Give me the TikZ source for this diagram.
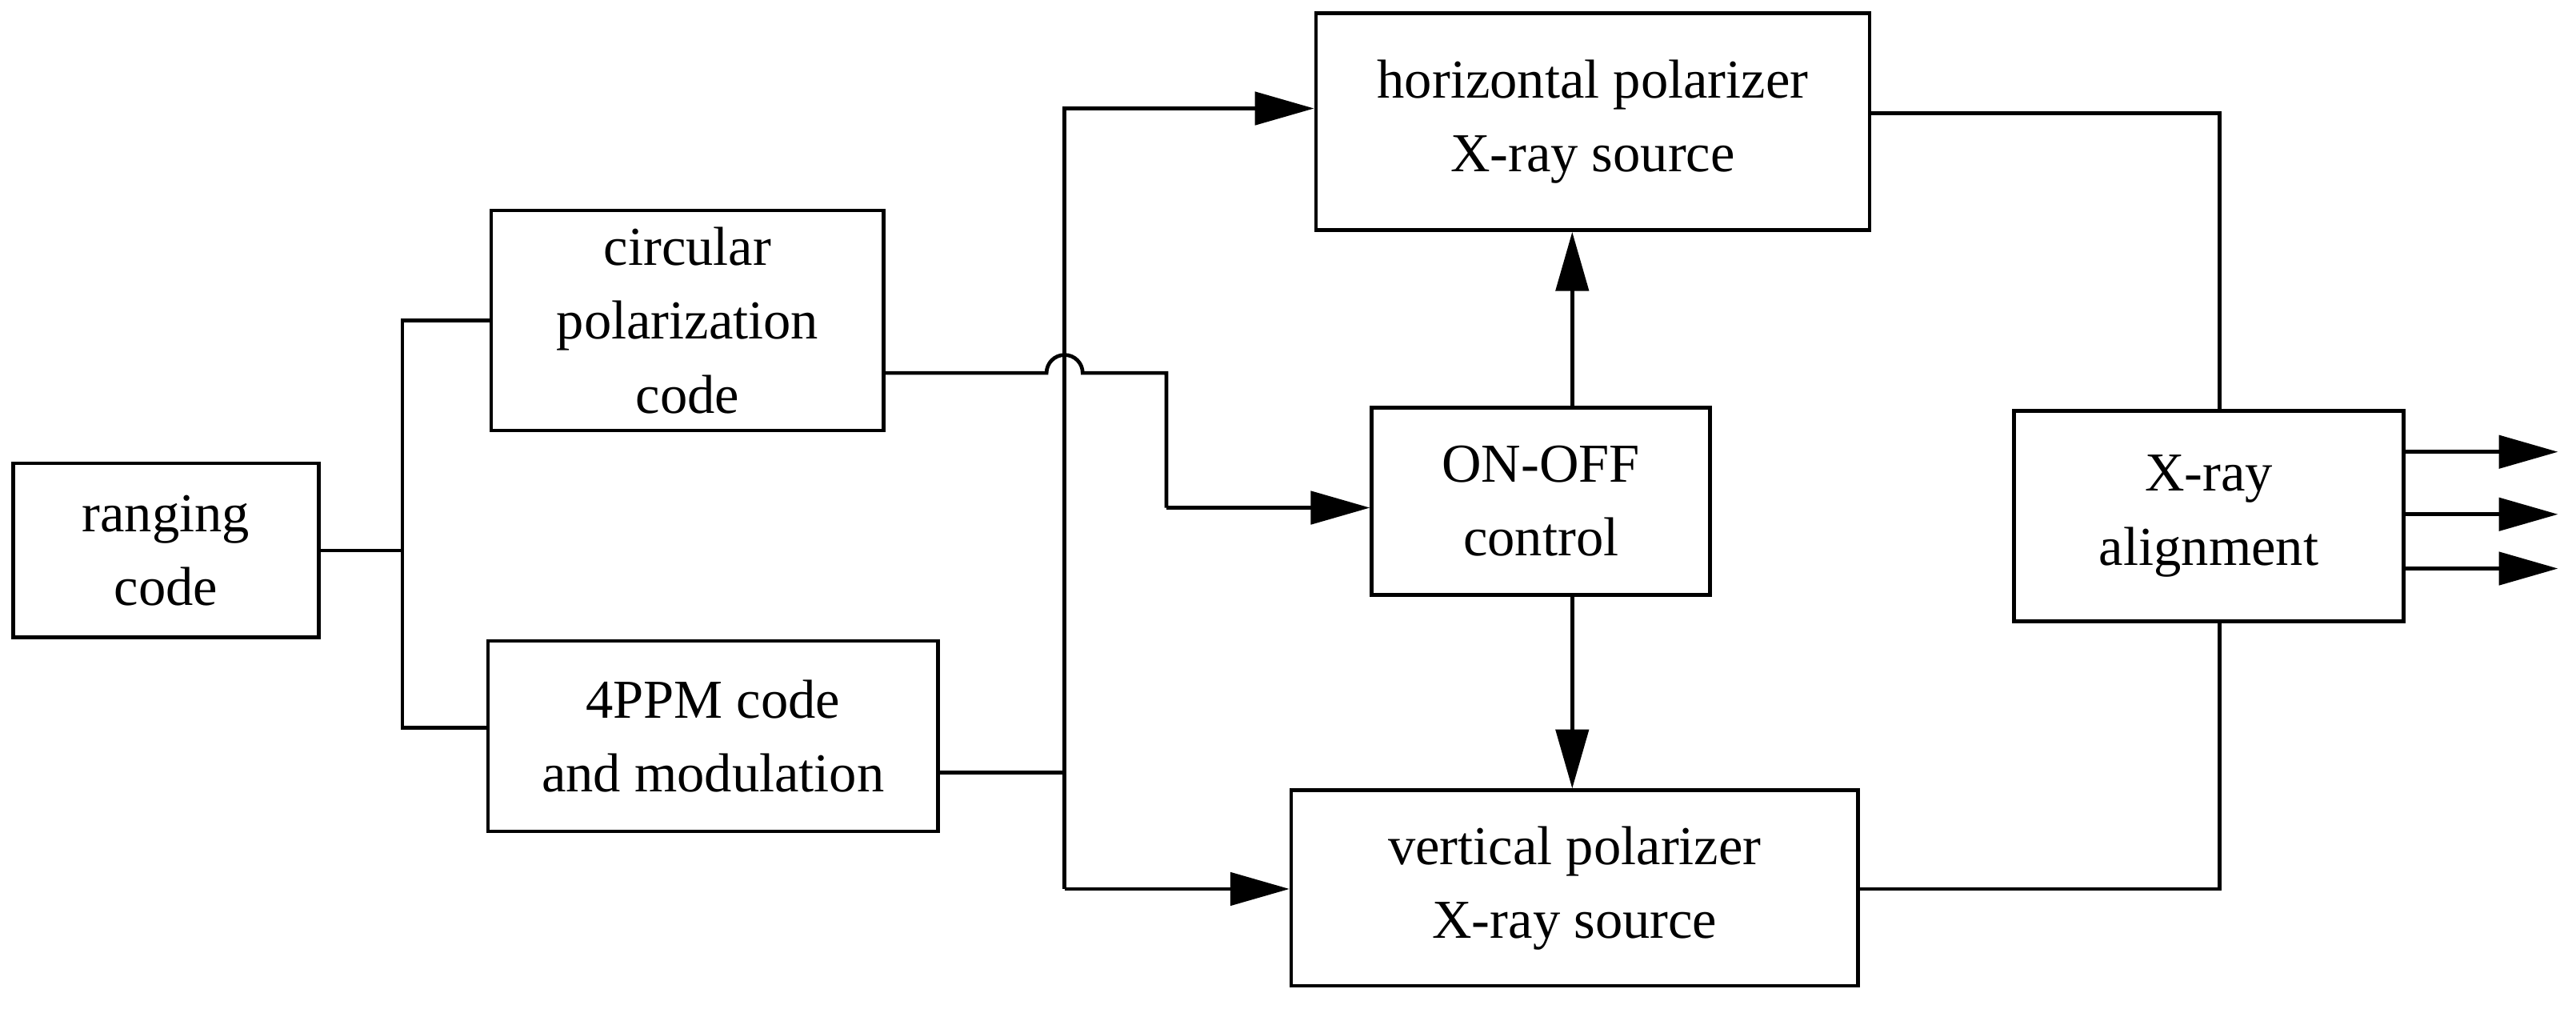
\documentclass[tikz,border=0pt]{standalone}
\usepackage{fontspec}
\setmainfont{Liberation Serif}
\usetikzlibrary{arrows.meta}
\begin{document}
\begin{tikzpicture}[x=0.02cm,y=-0.02cm,
  box/.style={draw,line width=1.3pt,align=center,font=\fontsize{19}{25.6}\selectfont,inner sep=0pt},
  ln/.style={line width=1.3pt},
  ar/.style={ln,-{Triangle[length=0.72cm,width=0.4cm]}}]
\useasboundingbox (0,0) rectangle (1568,614);
\node[box,minimum width=186*0.02cm,minimum height=106*0.02cm] (rc) at (101,335) {ranging\\code};
\node[box,minimum width=239*0.02cm,minimum height=134*0.02cm] (cp) at (418.5,195) {circular\\polarization\\code};
\node[box,minimum width=274*0.02cm,minimum height=116*0.02cm] (pm) at (434,448) {4PPM code\\and modulation};
\node[box,minimum width=337*0.02cm,minimum height=132*0.02cm] (hp) at (969.5,74) {horizontal polarizer\\X-ray source};
\node[box,minimum width=206*0.02cm,minimum height=114*0.02cm] (oo) at (938,305) {ON-OFF\\control};
\node[box,minimum width=345*0.02cm,minimum height=119*0.02cm] (vp) at (958.5,540.5) {vertical polarizer\\X-ray source};
\node[box,minimum width=237*0.02cm,minimum height=128*0.02cm] (xa) at (1344.5,314) {X-ray\\alignment};
\coordinate (b) at (245,335);
\draw[ln] (rc.east) -- (b);
\draw[ln] (cp.west |- 0,195) -| (245,443) -- (pm.west |- 0,443);
\draw[ln] (cp.east |- 0,227) -- (637,227) arc[start angle=180,end angle=360,radius=11] -- (710,227) -- (710,309);
\draw[ar] (710,309) -- (oo.west |- 0,309);
\draw[ln] (pm.east |- 0,470) -- (648,470);
\draw[ar] (648,541) -- (648,66) -- (hp.west |- 0,66);
\draw[ar] (648,541) -- (vp.west |- 0,541);
\draw[ar] (oo.north -| 957,0) -- (hp.south -| 957,0);
\draw[ar] (oo.south -| 957,0) -- (vp.north -| 957,0);
\draw[ln] (hp.east |- 0,69) -| (xa.north -| 1351,0);
\draw[ln] (vp.east |- 0,541) -| (xa.south -| 1351,0);
\foreach \yy/\n in {275/a,313/b,346/c} {
  \coordinate (o\n) at (1557,\yy);
  \draw[ar] (xa.east |- 0,\yy) -- (o\n);
}
\end{tikzpicture}
\end{document}
